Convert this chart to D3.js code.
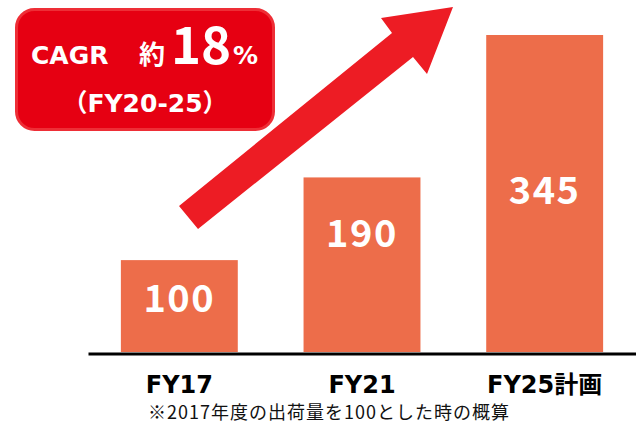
<!DOCTYPE html>
<html>
<head>
<meta charset="utf-8">
<script src="https://cdn.jsdelivr.net/npm/d3@7"></script>
<style>
    body { margin: 0; background: #fff; }
    svg { display: block; }
</style>
</head>
<body>
<div id="chart"></div>
<script>
// data
const categories = ["FY17", "FY21", "FY25計画"]
const shipments = [100, 190, 345]
const footnote = "※2017年度の出荷量を100とした時の概算"

// label baselines, measured from the top of each bar
const labelDy = [52, 70, 169]

const width = 636
const height = 425
const baseY = 352

const svg = d3.select("#chart").append("svg")
    .attr("width", width)
    .attr("height", height)

const x = d3.scaleBand()
    .domain(categories)
    .range([88, 636])
    .paddingInner(0.36)
    .paddingOuter(0.18)

const y = d3.scaleLinear()
    .domain([0, 345])
    .range([baseY, 35])

// bars
svg.append("g")
    .selectAll("rect")
    .data(shipments)
    .join("rect")
    .attr("x", (d, i) => x(categories[i]))
    .attr("y", d => y(d))
    .attr("width", x.bandwidth())
    .attr("height", d => baseY - y(d))
    .attr("fill", "#ED6D4A")

svg.append("g")
    .selectAll("text")
    .data(shipments)
    .join("text")
    .attr("x", (d, i) => x(categories[i]) + x.bandwidth() / 2)
    .attr("y", (d, i) => y(d) + labelDy[i])
    .attr("text-anchor", "middle")
    .attr("fill", "#fff")
    .attr("font-family", "'Noto Sans CJK JP', sans-serif")
    .attr("font-weight", "bold")
    .attr("font-size", 38)
    .attr("letter-spacing", 1.5)
    .text(d => d)

// axis
const axis = svg.append("g")
    .attr("transform", `translate(0,${baseY + 1.5})`)
    .call(d3.axisBottom(x).tickSize(0).tickSizeOuter(0).tickPadding(22))

axis.select(".domain")
    .attr("stroke", "#000")
    .attr("stroke-width", 3)

axis.selectAll("text")
    .attr("fill", "#000")
    .attr("font-family", "'DejaVu Sans', 'Noto Sans CJK JP', sans-serif")
    .attr("font-weight", "bold")
    .attr("font-size", 24)

svg.append("text")
    .attr("x", 148)
    .attr("y", 419)
    .attr("font-family", "'Noto Sans CJK JP', sans-serif")
    .attr("font-size", 18)
    .attr("letter-spacing", 1)
    .attr("fill", "#111")
    .text(footnote)

// growth arrow
const arrowPts = [[179, 206], [392, 33], [381, 18], [453, 7], [427, 74], [413, 57], [198, 229]]
svg.append("path")
    .attr("d", d3.line()(arrowPts) + "Z")
    .attr("fill", "#ED1C24")

// CAGR callout
svg.append("rect")
    .attr("x", 16.5)
    .attr("y", 9.5)
    .attr("width", 257)
    .attr("height", 120)
    .attr("rx", 18)
    .attr("fill", "#E60012")
    .attr("stroke", "#EE2E36")
    .attr("stroke-width", 3)

const boxFont = "'DejaVu Sans', 'Noto Sans CJK JP', sans-serif"

svg.append("text")
    .attr("x", 31)
    .attr("y", 64)
    .attr("fill", "#fff")
    .attr("font-family", boxFont)
    .attr("font-weight", "bold")
    .attr("font-size", 25)
    .text("CAGR")

svg.append("text")
    .attr("x", 139)
    .attr("y", 64)
    .attr("fill", "#fff")
    .attr("font-family", "'Noto Sans CJK JP', sans-serif")
    .attr("font-weight", "bold")
    .attr("font-size", 26)
    .text("約")

svg.append("text")
    .attr("x", 171)
    .attr("y", 64)
    .attr("fill", "#fff")
    .attr("font-family", "'Noto Sans CJK JP', sans-serif")
    .attr("font-weight", "bold")
    .attr("font-size", 51)
    .text("18")

svg.append("text")
    .attr("x", 233)
    .attr("y", 64)
    .attr("fill", "#fff")
    .attr("font-family", boxFont)
    .attr("font-weight", "bold")
    .attr("font-size", 25)
    .text("%")

svg.append("text")
    .attr("x", 145)
    .attr("y", 112)
    .attr("text-anchor", "middle")
    .attr("fill", "#fff")
    .attr("font-family", boxFont)
    .attr("font-weight", "bold")
    .attr("font-size", 25)
    .text("（FY20-25）")
</script>
</body>
</html>
